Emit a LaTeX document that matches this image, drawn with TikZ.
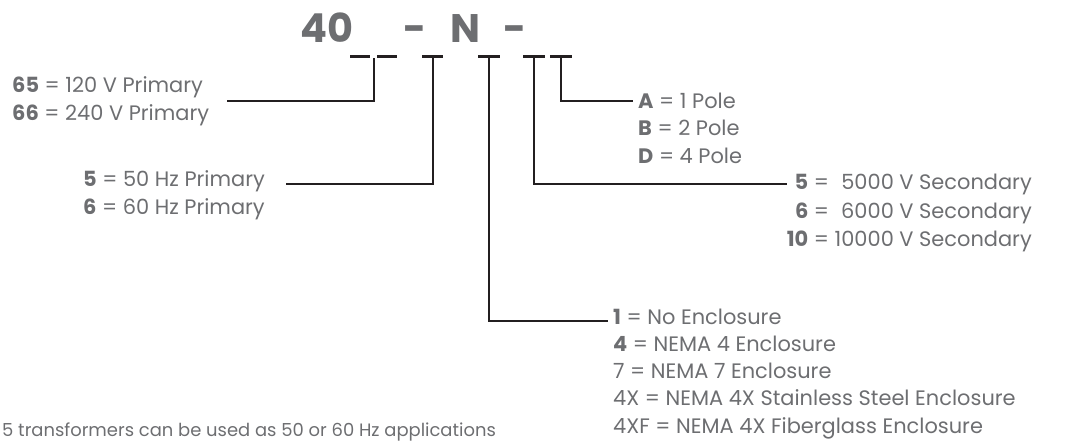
\documentclass[tikz,border=0pt]{standalone}
\usepackage{fontspec}
\setmainfont{Poppins}
\definecolor{txt}{HTML}{6D6E71}
\definecolor{ink}{HTML}{231F20}
\begin{document}
\begin{tikzpicture}[x=1bp,y=-1bp,
  lbl/.style={inner sep=0pt,text=txt,font=\fontsize{21}{26}\selectfont},
  ttl/.style={inner sep=0pt,text=txt,font=\fontsize{40}{44}\selectfont\bfseries},
  blank/.style={draw=ink,line width=3bp},
  conn/.style={draw=ink,line width=2bp}]
\useasboundingbox (0,0) rectangle (1081,441);
% title
\node[ttl,anchor=base west] (t40) at (300,43) {40};
\node[ttl,anchor=base] (d1) at (415,43) {-};
\node[ttl,anchor=base] (tN) at (465,43) {N};
\node[ttl,anchor=base] (d2) at (515,43) {-};
% blanks
\draw[blank] (350,57) -- (370,57);
\draw[blank] (377,57) -- (397,57);
\draw[blank] (422,57) -- (443,57);
\draw[blank] (478,57) -- (500,57);
\draw[blank] (523,57) -- (545,57);
\draw[blank] (550,57) -- (572,57);
\coordinate (bV) at (374,58.5);
\coordinate (bHz) at (433,58.5);
\coordinate (bEnc) at (489,58.5);
\coordinate (bSec) at (534,58.5);
\coordinate (bPole) at (561,58.5);
% labels
\node[lbl,anchor=base west] (v1) at (12,93) {\textbf{65} = 120 V Primary};
\node[lbl,anchor=base west] (v2) at (12,121) {\textbf{66} = 240 V Primary};
\node[lbl,anchor=base west] (h1) at (83,187) {\textbf{5} = 50 Hz Primary};
\node[lbl,anchor=base west] (h2) at (83,215) {\textbf{6} = 60 Hz Primary};
\node[lbl,anchor=base west] (p1) at (638,109) {\textbf{A} = 1 Pole};
\node[lbl,anchor=base west] (p2) at (638,136) {\textbf{B} = 2 Pole};
\node[lbl,anchor=base west] (p3) at (638,164) {\textbf{D} = 4 Pole};
\node[lbl,anchor=base east] (sec) at (1032,190) {\renewcommand{\arraystretch}{1.1}%
  \begin{tabular}[t]{@{}r@{ = }r@{}}
  \textbf{5} & 5000 V Secondary\\
  \textbf{6} & 6000 V Secondary\\
  \textbf{10} & 10000 V Secondary
  \end{tabular}};
\node[lbl,anchor=base west] (e1) at (613,325) {\textbf{1} = No Enclosure};
\node[lbl,anchor=base west] (e2) at (613,352) {\textbf{4} = NEMA 4 Enclosure};
\node[lbl,anchor=base west] (e3) at (613,379) {7 = NEMA 7 Enclosure};
\node[lbl,anchor=base west] (e4) at (613,406) {4X = NEMA 4X Stainless Steel Enclosure};
\node[lbl,anchor=base west] (e5) at (613,433) {4XF = NEMA 4X Fiberglass Enclosure};
\node[lbl,anchor=base west,font=\fontsize{18}{22}\selectfont] (note) at (2,436) {5 transformers can be used as 50 or 60 Hz applications};
% connector ends
\coordinate (eV) at (227,100.7);
\coordinate (eHz) at (286,184);
\coordinate (eEnc) at (608,321);
\coordinate (eSec) at (787,184);
\coordinate (ePole) at (633,100.7);
\draw[conn] (bV) |- (eV);
\draw[conn] (bHz) |- (eHz);
\draw[conn] (bEnc) |- (eEnc);
\draw[conn] (bSec) |- (eSec);
\draw[conn] (bPole) |- (ePole);
\end{tikzpicture}
\end{document}
